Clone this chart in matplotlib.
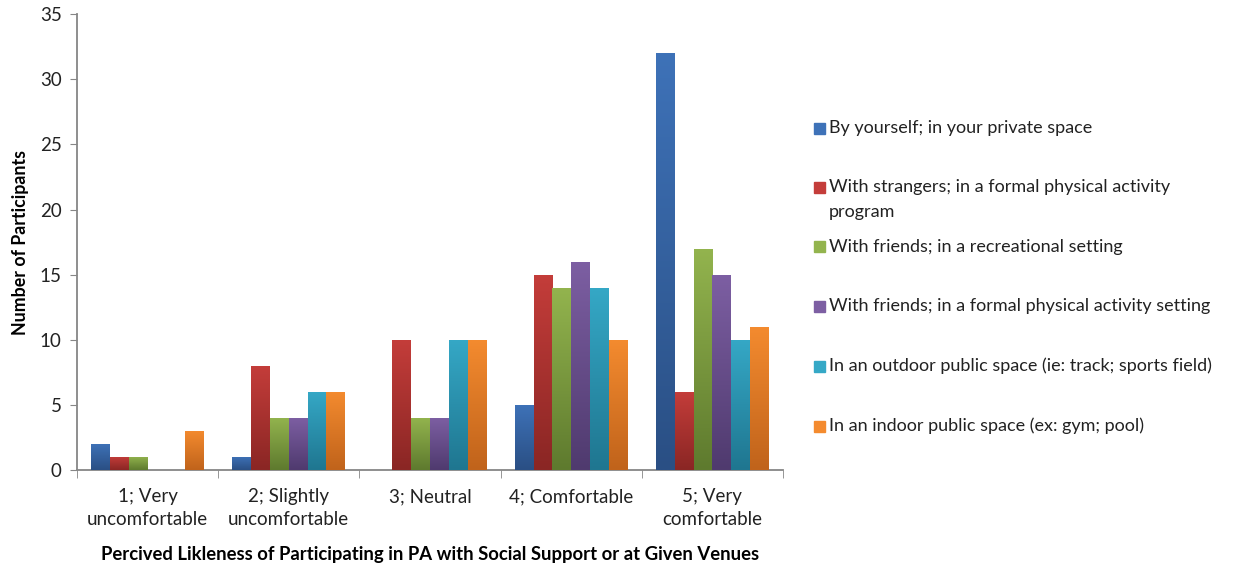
import numpy as np
import matplotlib
matplotlib.use('Agg')
import matplotlib.pyplot as plt
from matplotlib.colors import LinearSegmentedColormap
from matplotlib.patches import Rectangle

plt.rcParams['font.family'] = ['Lato', 'DejaVu Sans']

categories = ['1; Very\nuncomfortable', '2; Slightly\nuncomfortable', '3; Neutral',
              '4; Comfortable', '5; Very\ncomfortable']
series = ['By yourself; in your private space',
          'With strangers; in a formal physical activity\nprogram',
          'With friends; in a recreational setting',
          'With friends; in a formal physical activity setting',
          'In an outdoor public space (ie: track; sports field)',
          'In an indoor public space (ex: gym; pool)']
alone = [2, 1, 0, 5, 32]
strangers = [1, 8, 10, 15, 6]
friends_rec = [1, 4, 4, 14, 17]
friends_formal = [0, 4, 4, 16, 15]
outdoor = [0, 6, 10, 14, 10]
indoor = [3, 6, 10, 10, 11]
values = [alone, strangers, friends_rec, friends_formal, outdoor, indoor]

# (top colour, bottom colour) for the gradient fill of each series
colours = [('#3e72b8', '#2a4f84'),
           ('#c43d3a', '#8a2624'),
           ('#93b44e', '#5e7a2e'),
           ('#7d5fa3', '#4f3a6e'),
           ('#35a8c6', '#1f7690'),
           ('#f48b2f', '#c0631b')]

fig = plt.figure(figsize=(12.35, 5.65), dpi=100)
ax = fig.add_axes([0.0623, 0.168, 0.5717, 0.807])

x = np.arange(len(categories))
w = 0.133
grad = np.linspace(1, 0, 256).reshape(-1, 1)
for i, (vals, (top, bottom)) in enumerate(zip(values, colours)):
    bars = ax.bar(x + (i - 2.5) * w, vals, w, color=top, linewidth=0, zorder=2)
    cmap = LinearSegmentedColormap.from_list('s%d' % i, [bottom, top])
    for b in bars:
        if b.get_height() <= 0:
            continue
        bx, by = b.get_xy()
        im = ax.imshow(grad, extent=[bx, bx + b.get_width(), by, by + b.get_height()],
                       cmap=cmap, vmin=0, vmax=1, aspect='auto', zorder=3,
                       interpolation='bilinear')
        im.set_clip_path(b)

ax.set_xlim(-0.5, len(categories) - 0.5)
ax.set_ylim(0, 35)
ax.set_aspect('auto')
ax.set_yticks(range(0, 36, 5))

ax.set_xticks(x)
ax.set_xticklabels(categories, fontsize=13.5, color='#222222')
for t in ax.get_xticklabels():
    t.set_linespacing(1.45)
ax.set_xticks(np.arange(-0.5, len(categories)), minor=True)
ax.tick_params(axis='x', which='major', length=0, pad=13)
ax.tick_params(axis='x', which='minor', length=6, color='#868686')
ax.tick_params(axis='y', length=5, color='#868686', labelsize=13.5, labelcolor='#222222', pad=6)

for s in ['top', 'right']:
    ax.spines[s].set_visible(False)
for s in ['left', 'bottom']:
    ax.spines[s].set_color('#868686')
    ax.spines[s].set_linewidth(1.3)

ax.set_ylabel('Number of Participants', fontsize=12.8, fontweight='bold', labelpad=8)
ax.set_xlabel('Percived Likleness of Participating in PA with Social Support or at Given Venues',
              fontsize=13.3, fontweight='bold', labelpad=13)

# legend drawn as separate entries down the right side
legend_y = [128, 187, 247, 306, 366, 426]
H, W = 565, 1235
for lab, (top, bottom), yy in zip(series, colours, legend_y):
    fig.patches.append(Rectangle((814 / W, 1 - (yy + 5.5) / H), 11 / W, 11 / H,
                                 transform=fig.transFigure, color=top, figure=fig))
    ty = yy + 12.5 if '\n' in lab else yy
    fig.text(829 / W, 1 - ty / H, lab, fontsize=13, va='center',
             ha='left', color='#222222', linespacing=1.75)

fig.savefig('out.png', dpi=100)
